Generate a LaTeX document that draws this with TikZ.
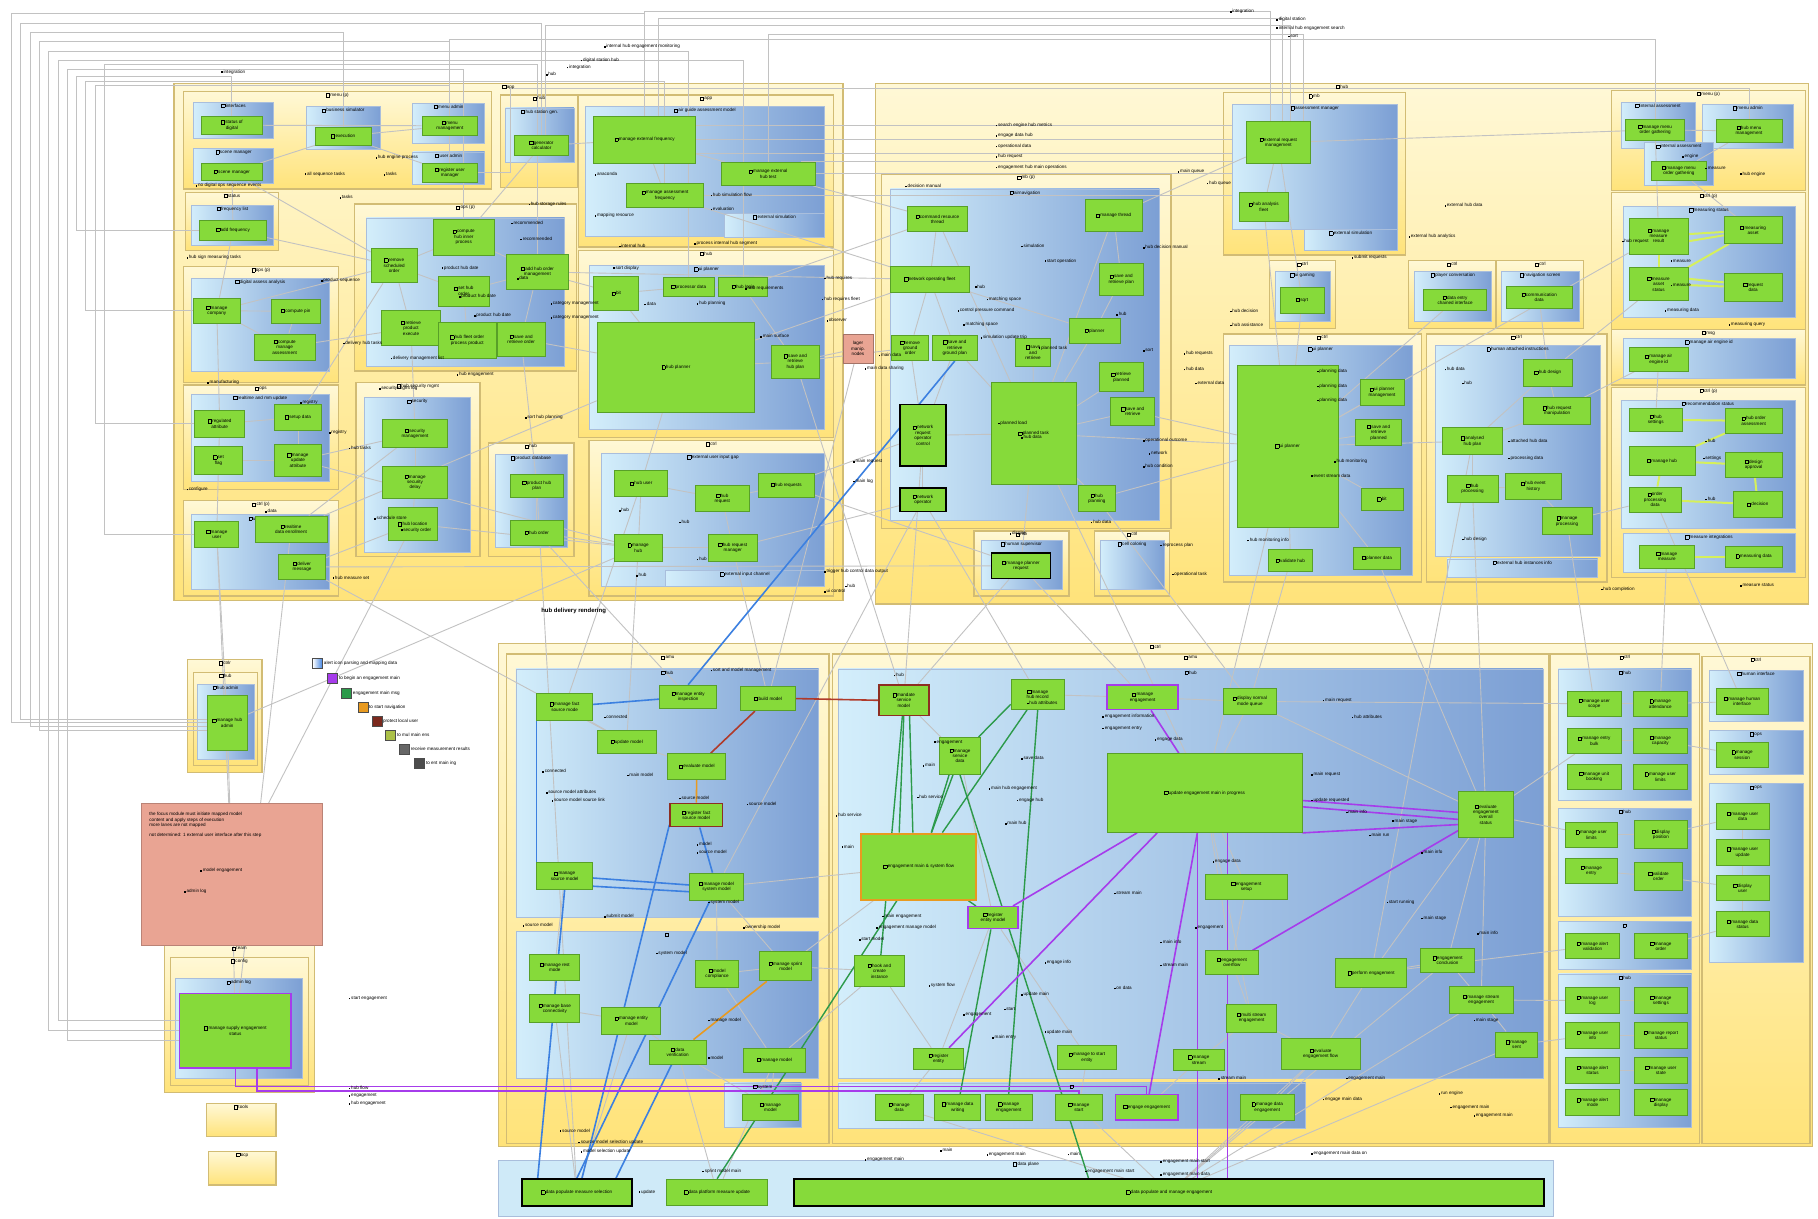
\documentclass[tikz,border=0pt]{standalone}
\usepackage{fontspec}
\setmainfont{Liberation Sans}
\usetikzlibrary{fit}
\definecolor{ytop}{HTML}{FFF8D6}
\definecolor{ybot}{HTML}{FFE37A}
\definecolor{yedge}{HTML}{D2BC74}
\definecolor{bl1}{HTML}{D3EEFB}
\definecolor{bl2}{HTML}{7C9FD4}
\definecolor{bedge}{HTML}{A9BEDC}
\definecolor{gfill}{HTML}{86DA3A}
\definecolor{gedge}{HTML}{58A028}
\definecolor{lgray}{HTML}{C2C2C2}
\definecolor{cblue}{HTML}{3C80E0}
\definecolor{cpurp}{HTML}{A63CEB}
\definecolor{cgreen}{HTML}{2C9A4A}
\definecolor{cred}{HTML}{B03A2A}
\definecolor{corange}{HTML}{E89A20}
\definecolor{pinkb}{HTML}{E9A493}
\definecolor{lime}{HTML}{D6F05A}
\definecolor{plane}{HTML}{CFEAF8}
\pgfdeclarelayer{bg}\pgfdeclarelayer{mid}
\pgfsetlayers{bg,mid,main}
\newcounter{lbc}
\newcommand\ico{{\fboxsep=0pt\fboxrule=0.15pt\fbox{\rule{0pt}{1.5pt}\hspace{1.5pt}}}\,}
\newcommand\bul{\rule{0.8pt}{0.8pt}\,}
\tikzset{
 ybox/.style={draw=yedge, line width=0.6pt, top color=ytop, bottom color=ybot, inner sep=0pt},
 bbox/.style={draw=bedge, line width=0.3pt, left color=bl1, right color=bl2, inner sep=0pt},
 gbox/.style={draw=gedge, line width=0.4pt, fill=gfill, inner sep=0pt},
 txt/.style={font=\fontsize{2.3}{2.7}\selectfont, inner sep=0.3pt, align=center},
 ttl/.style={txt, anchor=north, yshift=-0.6pt},
 lbl/.style={txt, anchor=west, align=left},
 gl/.style={draw=lgray, line width=0.45pt},
 cb/.style={draw=cblue, line width=0.8pt},
 cp/.style={draw=cpurp, line width=0.8pt},
 cg/.style={draw=cgreen, line width=0.7pt},
 cr/.style={draw=cred, line width=0.8pt},
 co/.style={draw=corange, line width=0.8pt},
 cl/.style={draw=lime, line width=1pt},
 leg/.style={draw=black!70, minimum size=5pt, inner sep=0pt, line width=0.3pt},
}
\newcommand\Yc[6]{\begin{pgfonlayer}{bg}\node[ybox,fit={(#2,#3)(#4,#5)}](#1){};\end{pgfonlayer}\node[ttl](#1t) at (#1.north){\ico #6};}
\newcommand\Bc[6]{\begin{pgfonlayer}{bg}\node[bbox,fit={(#2,#3)(#4,#5)}](#1){};\end{pgfonlayer}\node[ttl](#1t) at (#1.north){\ico #6};}
\newcommand\Gn[7][gbox]{\node[#1,fit={(#3,#4)(#5,#6)}](#2){};\node[txt](#2x) at (#2.center){\ico #7};}
\newcommand\Lb[3]{\stepcounter{lbc}\node[lbl](lb\arabic{lbc}) at (#1,#2){\bul #3};}
\begin{document}
\begin{tikzpicture}[x=0.5797pt,y=-0.5797pt]
\begin{pgfonlayer}{bg}
\fill[white] (0,0) rectangle (1568,1051);
\end{pgfonlayer}
\useasboundingbox (0,0) rectangle (1568,1051);
% ================= top-left block A
\Yc{cA}{150}{72}{727}{518}{app}
\Yc{cA1}{158}{79}{424}{163}{menu (p)}
\Bc{bA1a}{167}{88}{236}{119}{interfaces}
\Gn{gA1a}{174}{100}{226}{116}{status of\\digital}
\Bc{bA1b}{167}{128}{236}{158}{scene manager}
\Gn{gA1b}{174}{141}{226}{156}{scene manager}
\Bc{bA1c}{264}{92}{328}{129}{business simulator}
\Gn{gA1c}{272}{110}{320}{125}{execution}
\Bc{bA1d}{356}{89}{418}{124}{menu admin}
\Gn{gA1d}{364}{100}{412}{117}{menu\\management}
\Bc{bA1e}{356}{131}{418}{159}{user admin}
\Gn{gA1e}{364}{141}{412}{157}{register user\\manager}
\Yc{cA2}{160}{166}{240}{216}{status}
\Bc{bA2}{165}{177}{236}{212}{frequency list}
\Gn{gA2}{172}{190}{230}{207}{add frequency}
\Yc{cA3}{432}{82}{498}{162}{hub}
\Bc{bA3}{436}{93}{495}{140}{hub station gen.}
\Gn{gA3}{444}{117}{490}{134}{generator\\calculator}
\Yc{cA4}{499}{82}{719}{213}{app}
\Bc{bA4}{505}{92}{711}{204}{air guide assessment model}
\Gn{gA4a}{512}{100}{600}{141}{manage external frequency}
\Gn{gA4b}{622}{140}{703}{160}{manage external\\hub test}
\Gn{gA4c}{540}{158}{607}{179}{manage assessment\\frequency}
\Bc{bA4s}{625}{184}{711}{205}{external simulation}
\Yc{cA5}{306}{176}{497}{320}{ops (p)}
\Bc{bA5}{316}{188}{487}{316}{hub order}
\Gn{gA5a}{320}{214}{360}{244}{remove\\scheduled\\order}
\Gn{gA5b}{374}{189}{426}{220}{compute\\hub inner\\process}
\Gn{gA5c}{378}{238}{422}{264}{set hub\\order}
\Gn{gA5d}{329}{268}{380}{298}{retrieve\\product\\execute}
\Gn{gA5e}{378}{278}{428}{309}{hub fleet order\\process product}
\Gn{gA5f}{437}{219}{490}{250}{add hub order\\management}
\Gn{gA5g}{429}{278}{470}{307}{save and\\retrieve order}
\Yc{cA6}{158}{230}{292}{330}{ops (p)}
\Bc{bA6}{165}{240}{284}{320}{digital assess analysis}
\Gn{gA6a}{167}{257}{207}{279}{manage\\company}
\Gn{gA6b}{234}{258}{276}{279}{compute pin}
\Gn{gA6c}{219}{288}{272}{311}{compute\\manage\\assessment}
\Yc{cA7}{158}{332}{292}{422}{ops}
\Bc{bA7}{165}{340}{284}{415}{realtime and mm update}
\Gn{gA7a}{168}{354}{211}{377}{regulated\\attribute}
\Gn{gA7b}{237}{349}{277}{371}{setup data}
\Gn{gA7c}{168}{385}{209}{409}{set\\flag}
\Gn{gA7d}{237}{383}{277}{411}{manage\\update\\attribute}
\Yc{cA8}{307}{330}{414}{480}{hub security mgmt}
\Bc{bA8}{314}{343}{406}{476}{security}
\Gn{gA8a}{330}{362}{386}{386}{security\\management}
\Gn{gA8b}{330}{402}{386}{430}{manage\\security\\delay}
\Gn{gA8c}{335}{438}{377}{466}{hub location}
\Yc{cA9}{421}{382}{495}{480}{hub}
\Bc{bA9}{427}{392}{489}{472}{product database}
\Gn{gA9a}{440}{409}{486}{429}{product hub\\plan}
\Gn{gA9b}{440}{449}{486}{470}{hub order}
\Yc{cA10}{499}{216}{719}{377}{hub}
\Bc{bA10}{508}{229}{711}{370}{ui planner}
\Gn{gA10a}{512}{238}{551}{268}{bit}
\Gn{gA10b}{572}{239}{616}{256}{processor data}
\Gn{gA10c}{620}{239}{662}{256}{hub login}
\Gn{gA10d}{515}{278}{651}{356}{hub planner}
\Gn{gA10e}{665}{298}{707}{326}{save and\\retrieve\\hub plan}
\Yc{cA11}{508}{380}{719}{514}{ctrl}
\Bc{bA11}{519}{391}{711}{506}{external user input gap}
\Gn{gA11a}{530}{406}{576}{428}{hub user}
\Gn{gA11b}{600}{419}{646}{441}{hub\\request}
\Gn{gA11c}{654}{408}{702}{429}{hub requests}
\Gn{gA11d}{530}{461}{571}{484}{manage\\hub}
\Gn{gA11e}{611}{461}{653}{484}{hub request\\manager}
\Bc{bA11s}{574}{492}{711}{506}{external input channel}
\Yc{cA12}{158}{432}{292}{514}{ctrl (p)}
\Bc{bA12}{165}{444}{284}{508}{user data}
\Gn{gA12a}{168}{450}{206}{472}{manage\\user}
\Gn{gA12b}{220}{445}{282}{468}{realtime\\data enrollment}
\Gn{gA12c}{240}{478}{281}{500}{deliver\\message}
\node[fill=pinkb,draw=pinkb!70!black,line width=0.3pt,fit={(727,288)(753,313)},inner sep=0](pk1){};
\node[txt](pk1x) at (pk1.center){lager\\manip.\\nodes};
% ================= top-right block B
\Yc{cB}{755}{72}{1560}{521}{hub}
\Yc{cB1}{760}{150}{1010}{456}{mb (p)}
\Bc{bB1}{768}{163}{1000}{449}{airnavigation}
\Gn{gB1a}{783}{178}{834}{200}{command resource\\thread}
\Gn{gB1b}{936}{172}{985}{200}{manage thread}
\Gn{gB1c}{768}{230}{836}{252}{network operating fleet}
\Gn{gB1d}{948}{227}{986}{255}{save and\\retrieve plan}
\Gn{gB1e}{922}{275}{966}{296}{planner}
\Gn{gB1f}{769}{289}{801}{311}{remove\\ground\\order}
\Gn{gB1g}{804}{289}{843}{311}{save and\\retrieve\\ground plan}
\Gn{gB1h}{876}{292}{906}{316}{save\\and\\retrieve}
\Gn{gB1i}{948}{313}{986}{338}{retrieve\\planned}
\Gn{gB1j}{958}{343}{996}{367}{save and\\retrieve}
\Gn{gB1k}{855}{330}{928}{418}{planned task}
\Gn[gbox,draw=black,line width=0.8pt]{gB1l}{776}{349}{816}{402}{network\\request\\operator\\control}
\Gn[gbox,draw=black,line width=0.8pt]{gB1m}{776}{421}{816}{441}{network\\operator}
\Gn{gB1n}{930}{419}{962}{441}{hub\\planning}
\Yc{cB2}{1055}{80}{1212}{220}{mb}
\Bc{bB2}{1063}{90}{1205}{198}{assessment manager}
\Gn{gB2a}{1075}{105}{1130}{141}{external request\\management}
\Gn{gB2b}{1069}{166}{1111}{191}{hub analysis\\fleet}
\Bc{bB2s}{1125}{198}{1205}{216}{external simulation}
\Yc{cB3}{1095}{225}{1152}{283}{ctrl}
\Bc{bB3}{1100}{234}{1147}{277}{ui gaming}
\Gn{gB3}{1104}{248}{1142}{270}{sqrt}
\Yc{cB4}{1215}{225}{1290}{283}{ctrl}
\Bc{bB4}{1220}{234}{1286}{277}{player conversation}
\Gn{gB4}{1228}{250}{1282}{268}{data entry\\chained interface}
\Yc{cB5}{1291}{225}{1366}{283}{ctrl}
\Bc{bB5}{1295}{234}{1362}{277}{navigation screen}
\Gn{gB5}{1299}{247}{1356}{266}{communication\\data}
\Yc{cB6}{1055}{288}{1226}{502}{ctrl}
\Bc{bB6}{1060}{298}{1218}{496}{ui planner}
\Gn{gB6a}{1067}{315}{1154}{455}{ui planner}
\Gn{gB6b}{1173}{327}{1211}{350}{ui planner\\management}
\Gn{gB6c}{1169}{362}{1209}{384}{save and\\retrieve\\planned}
\Gn{gB6d}{1174}{421}{1210}{440}{bit}
\Gn{gB6e}{1094}{474}{1132}{493}{validate hub}
\Gn{gB6f}{1167}{472}{1208}{491}{planner data}
\Yc{cB7}{1230}{288}{1386}{502}{ctrl}
\Bc{bB7}{1238}{298}{1380}{480}{human attached instructions}
\Gn{gB7a}{1314}{310}{1356}{333}{hub design}
\Gn{gB7b}{1314}{343}{1372}{366}{hub request\\manipulation}
\Gn{gB7c}{1244}{369}{1296}{392}{analysed\\hub plan}
\Gn{gB7d}{1248}{410}{1292}{433}{hub\\processing}
\Gn{gB7e}{1298}{408}{1347}{431}{hub event\\history}
\Gn{gB7f}{1330}{438}{1373}{461}{manage\\processing}
\Bc{bB7s}{1248}{482}{1378}{498}{external hub instances info}
\Yc{cB8}{840}{458}{922}{514}{mb}
\Bc{bB8}{846}{466}{916}{508}{human supervisor}
\Gn[gbox,draw=black,line width=0.8pt]{gB8}{855}{477}{906}{499}{manage planner\\request}
\Yc{cB9}{944}{458}{1009}{514}{ctrl}
\Bc{bB9}{949}{466}{1004}{508}{cell coloring}
\Yc{cB10}{1390}{78}{1557}{164}{menu (p)}
\Bc{bB10a}{1398}{88}{1462}{128}{internal assessment}
\Gn{gB10a}{1402}{103}{1453}{121}{manage menu\\order gathering}
\Bc{bB10b}{1468}{90}{1547}{128}{menu admin}
\Gn{gB10b}{1480}{103}{1537}{123}{hub menu\\management}
\Bc{bB10c}{1418}{123}{1478}{160}{internal assessment}
\Gn{gB10c}{1424}{139}{1472}{156}{manage menu\\order gathering}
\Yc{cB11}{1390}{166}{1557}{284}{ctrl (p)}
\Bc{bB11}{1400}{178}{1548}{274}{measuring status}
\Gn{gB11a}{1405}{188}{1456}{219}{manage\\measure\\result}
\Gn{gB11b}{1487}{187}{1537}{210}{measuring\\asset}
\Gn{gB11c}{1405}{231}{1456}{259}{measure\\asset\\status}
\Gn{gB11d}{1487}{236}{1537}{260}{request\\data}
\Yc{cB12}{1390}{284}{1557}{332}{msg}
\Bc{bB12}{1400}{292}{1548}{326}{manage air engine id}
\Gn{gB12}{1405}{300}{1456}{320}{manage air\\engine id}
\Yc{cB13}{1390}{334}{1557}{498}{ctrl (p)}
\Bc{bB13}{1398}{345}{1548}{456}{recommendation status}
\Gn{gB13a}{1405}{352}{1451}{372}{hub\\settings}
\Gn{gB13b}{1488}{352}{1537}{374}{hub order\\assessment}
\Gn{gB13c}{1405}{385}{1462}{410}{manage hub}
\Gn{gB13d}{1488}{390}{1537}{412}{design\\approval}
\Gn{gB13e}{1405}{420}{1450}{442}{order\\processing\\data}
\Gn{gB13f}{1495}{424}{1537}{446}{decision}
\Bc{bB13s}{1400}{460}{1548}{494}{measure integrations}
\Gn{gB13g}{1414}{470}{1461}{490}{manage\\measure}
\Gn{gB13h}{1488}{471}{1537}{489}{measuring data}
% ================= bottom left
\Yc{cC1}{162}{569}{226}{666}{ctrlr}
\Yc{cC1b}{167}{580}{222}{660}{hub}
\Bc{bC1}{170}{590}{219}{655}{hub admin}
\Gn{gC1}{179}{600}{213}{647}{manage hub\\admin}
\node[fill=pinkb,draw=pinkb!80!black,line width=0.3pt,fit={(122,693)(278,815)},inner sep=0](pk2){};
\node[txt,anchor=north west,align=left](pk2x) at (128,700){the focus module must initiate mapped model\\content and apply steps of execution\\more lanes are not mapped\\[2pt]not determined: 1 external user interface after this step};
\Yc{cC2}{142}{815}{271}{942}{team}
\Yc{cC2b}{147}{826}{266}{936}{config}
\Bc{bC2}{151}{844}{261}{930}{admin log}
\Gn[gbox,draw=cpurp,line width=0.7pt]{gC2}{155}{857}{251}{921}{manage supply engagement\\status}
\Yc{cC3}{178}{952}{238}{980}{tools}
\Yc{cC4}{180}{993}{238}{1022}{ocp}
% legend
\node[leg,left color=white,right color=cblue](lg1) at (274,572){};
\node[leg,fill=cpurp](lg2) at (287,585){};
\node[leg,fill=cgreen](lg3) at (299,598){};
\node[leg,fill=corange](lg4) at (313,610){};
\node[leg,fill=cred!70!black](lg5) at (325,622){};
\node[leg,fill=lime!80!black](lg6) at (337,634){};
\node[leg,fill=black!60](lg7) at (349,646){};
\node[leg,fill=black!70](lg8) at (362,658){};
\node[lbl](lg1x) at (lg1.east){alert icon parsing and mapping data};
\node[lbl](lg2x) at (lg2.east){to begin an engagement main};
\node[lbl](lg3x) at (lg3.east){engagement main msg};
\node[lbl](lg4x) at (lg4.east){to start navigation};
\node[lbl](lg5x) at (lg5.east){protect local user};
\node[lbl](lg6x) at (lg6.east){to mul main ens};
\node[lbl](lg7x) at (lg7.east){receive measurement results};
\node[lbl](lg8x) at (lg8.east){to ent main ing};
\node[lbl,font=\fontsize{3}{3.4}\selectfont\bfseries](hdl) at (466,527){hub delivery rendering};
% ================= bottom block D
\Yc{cD}{430}{555}{1563}{989}{ctrl}
\Yc{cD1}{437}{564}{715}{986}{amu}
\Bc{bD1a}{445}{577}{706}{791}{hub}
\Gn{gD1a}{463}{598}{511}{621}{manage fact\\source mode}
\Gn{gD1b}{569}{591}{618}{611}{manage entity\\inspection}
\Gn{gD1c}{639}{592}{686}{613}{build model}
\Gn{gD1d}{515}{630}{566}{650}{update model}
\Gn{gD1e}{576}{650}{626}{672}{evaluate model}
\Gn[gbox,draw=cred!80!black,line width=0.8pt]{gD1f}{578}{693}{623}{713}{register fact\\source model}
\Gn{gD1g}{463}{744}{511}{767}{manage\\source model}
\Gn{gD1h}{595}{753}{641}{777}{manage model\\system model}
\Bc{bD1b}{445}{803}{706}{930}{}
\Gn{gD1i}{457}{823}{500}{846}{manage rest\\mode}
\Gn{gD1j}{457}{858}{500}{882}{manage base\\connectivity}
\Gn{gD1k}{600}{828}{637}{852}{model\\compliance}
\Gn{gD1l}{655}{821}{700}{846}{manage sprint\\model}
\Gn{gD1m}{519}{869}{570}{892}{manage entity\\model}
\Gn{gD1n}{560}{897}{609}{918}{data\\verification}
\Gn{gD1o}{641}{904}{695}{925}{manage model}
\Bc{bD1c}{625}{934}{691}{972}{system}
\Gn{gD1p}{640}{944}{689}{966}{manage\\model}
\Yc{cD2}{718}{564}{1336}{986}{amu}
\Bc{bD2}{723}{577}{1331}{930}{hub}
\Gn[gbox,draw=cred!80!black,line width=0.8pt]{gD2a}{758}{591}{801}{617}{mandate\\service\\model}
\Gn{gD2b}{872}{586}{918}{612}{manage\\hub record}
\Gn[gbox,draw=cpurp,line width=0.8pt]{gD2c}{955}{591}{1016}{612}{manage\\engagement}
\Gn{gD2d}{1055}{594}{1101}{616}{display normal\\mode queue}
\Gn{gD2e}{810}{636}{846}{668}{manage\\service\\data}
\Gn{gD2f}{955}{650}{1123}{718}{update engagement main in progress}
\Gn[gbox,draw=corange,line width=1pt]{gD2g}{743}{719}{842}{776}{engagement main \& system flow}
\Gn{gD2h}{1258}{683}{1305}{722}{evaluate\\engagement\\overall\\status}
\Gn{gD2i}{1040}{754}{1110}{776}{engagement\\setup}
\Gn[gbox,draw=cpurp,line width=0.7pt]{gD2j}{835}{782}{878}{801}{register\\entity model}
\Gn{gD2k}{737}{824}{780}{851}{hook and\\create\\instance}
\Gn{gD2l}{1152}{827}{1213}{852}{perform engagement}
\Gn{gD2m}{1040}{820}{1085}{840}{engagement\\overflow}
\Gn{gD2n}{1225}{818}{1272}{839}{engagement\\conclusion}
\Gn{gD2o}{1250}{851}{1305}{874}{manage stream\\engagement}
\Gn{gD2p}{1058}{866}{1101}{890}{multi stream\\engagement}
\Gn{gD2q}{1012}{905}{1056}{923}{manage\\stream}
\Gn{gD2r}{1105}{896}{1173}{922}{evaluate\\engagement flow}
\Gn{gD2s}{1290}{890}{1326}{912}{manage\\sent}
\Gn{gD2t}{788}{904}{831}{922}{register\\entity}
\Gn{gD2u}{912}{902}{963}{922}{manage to start\\entity}
\Bc{bD2s}{723}{934}{1126}{973}{}
\Gn{gD2v}{755}{944}{796}{966}{manage\\data}
\Gn{gD2w}{806}{944}{846}{966}{manage data\\writing}
\Gn{gD2x}{850}{944}{890}{966}{manage\\engagement}
\Gn{gD2y}{910}{944}{951}{966}{manage\\start}
\Gn[gbox,draw=cpurp,line width=0.7pt]{gD2z}{962}{944}{1016}{966}{engage engagement}
\Gn{gD2aa}{1070}{944}{1116}{966}{manage data\\engagement}
\Yc{cD3}{1337}{564}{1466}{986}{ctrl}
\Bc{bD3a}{1344}{577}{1459}{690}{hub}
\Gn{gD3a}{1352}{596}{1398}{618}{manage user\\scope}
\Gn{gD3b}{1409}{596}{1455}{618}{manage\\attendance}
\Gn{gD3c}{1352}{628}{1398}{650}{manage entry\\bulk}
\Gn{gD3d}{1409}{628}{1455}{650}{manage\\capacity}
\Gn{gD3e}{1352}{659}{1398}{681}{manage unit\\booking}
\Gn{gD3f}{1409}{659}{1455}{681}{manage user\\limits}
\Bc{bD3b}{1344}{697}{1459}{790}{hub}
\Gn{gD3g}{1350}{709}{1395}{731}{manage user\\limits}
\Gn{gD3h}{1410}{708}{1455}{732}{display\\position}
\Gn{gD3i}{1350}{740}{1395}{762}{manage\\entry}
\Gn{gD3j}{1410}{744}{1451}{768}{validate\\order}
\Bc{bD3c}{1344}{795}{1459}{836}{}
\Gn{gD3k}{1350}{805}{1397}{827}{manage alert\\validation}
\Gn{gD3l}{1410}{805}{1455}{827}{manage\\order}
\Bc{bD3d}{1344}{840}{1459}{972}{hub}
\Gn{gD3m}{1350}{852}{1397}{874}{manage user\\log}
\Gn{gD3n}{1410}{852}{1455}{874}{manage\\settings}
\Gn{gD3o}{1350}{882}{1397}{904}{manage user\\info}
\Gn{gD3p}{1410}{882}{1455}{904}{manage report\\status}
\Gn{gD3q}{1350}{912}{1397}{934}{manage alert\\status}
\Gn{gD3r}{1410}{912}{1455}{934}{manage user\\state}
\Gn{gD3s}{1350}{940}{1397}{962}{manage alert\\mode}
\Gn{gD3t}{1410}{940}{1455}{962}{manage\\display}
\Yc{cD4}{1468}{566}{1561}{986}{ctrl}
\Bc{bD4a}{1474}{578}{1555}{622}{human interface}
\Gn{gD4a}{1480}{594}{1525}{616}{manage human\\interface}
\Bc{bD4b}{1474}{630}{1555}{668}{ops}
\Gn{gD4b}{1480}{640}{1525}{662}{manage\\session}
\Bc{bD4c}{1474}{676}{1555}{830}{ops}
\Gn{gD4c}{1480}{693}{1526}{715}{manage user\\data}
\Gn{gD4d}{1480}{724}{1526}{746}{manage user\\update}
\Gn{gD4e}{1480}{755}{1526}{777}{display\\user}
\Gn{gD4f}{1480}{786}{1526}{808}{manage data\\status}
% ================= data plane
\begin{pgfonlayer}{bg}
\node[draw=bedge,fill=plane,line width=0.4pt,fit={(430,1001)(1340,1049)},inner sep=0](bE){};
\end{pgfonlayer}
\node[ttl](bEt) at (bE.north){\ico data plane};
\Gn[gbox,draw=black,line width=0.9pt]{gE1}{450}{1017}{545}{1040}{data populate measure selection}
\Gn{gE2}{575}{1017}{662}{1040}{data platform measure update}
\Gn[gbox,draw=black,line width=0.9pt]{gE3}{685}{1017}{1332}{1040}{data populate and manage engagement}
% ================= edge labels
\Lb{168}{160}{no digital ops sequence events}
\Lb{292}{170}{tasks}
\Lb{330}{150}{tasks}
\Lb{323}{136}{hub engine process}
\Lb{262}{150}{all sequence tasks}
\Lb{160}{222}{hub sign measuring tasks}
\Lb{276}{242}{product sequence}
\Lb{295}{296}{delivery hub tasks}
\Lb{178}{330}{manufacturing}
\Lb{258}{347}{registry}
\Lb{283}{373}{registry}
\Lb{300}{386}{hub tasks}
\Lb{160}{422}{configure}
\Lb{228}{441}{data}
\Lb{286}{498}{hub measure set}
\Lb{326}{335}{security mgmt log}
\Lb{322}{447}{schedule store}
\Lb{345}{457}{security order}
\Lb{380}{231}{product hub date}
\Lb{395}{256}{product hub date}
\Lb{408}{272}{product hub date}
\Lb{336}{309}{delivery management list}
\Lb{440}{192}{recommended}
\Lb{448}{206}{recommended}
\Lb{445}{240}{data}
\Lb{474}{262}{category management}
\Lb{474}{274}{category management}
\Lb{393}{323}{hub engagement}
\Lb{452}{360}{sort hub planning}
\Lb{455}{176}{hub storage rules}
\Lb{512}{150}{anaconda}
\Lb{512}{186}{mapping resource}
\Lb{612}{168}{hub simulation flow}
\Lb{612}{180}{evaluation}
\Lb{533}{212}{internal hub}
\Lb{598}{210}{process internal hub segment}
\Lb{528}{231}{sort display}
\Lb{555}{262}{data}
\Lb{600}{262}{hub planning}
\Lb{655}{290}{main surface}
\Lb{642}{249}{hub requirements}
\Lb{533}{440}{hub}
\Lb{585}{450}{hub}
\Lb{548}{496}{hub}
\Lb{600}{482}{hub}
\Lb{710}{240}{hub requires}
\Lb{708}{258}{hub requires fleet}
\Lb{712}{276}{observer}
\Lb{757}{306}{main data}
\Lb{745}{318}{main data sharing}
\Lb{735}{398}{main request}
\Lb{735}{415}{main log}
\Lb{728}{505}{hub}
\Lb{710}{493}{trigger hub control data output}
\Lb{710}{510}{ui control}
\Lb{858}{108}{search engine hub metrics}
\Lb{858}{117}{engage data hub}
\Lb{858}{126}{operational data}
\Lb{858}{135}{hub request}
\Lb{858}{144}{engagement hub main operations}
\Lb{1015}{148}{main queue}
\Lb{1040}{158}{hub queue}
\Lb{780}{160}{decision manual}
\Lb{880}{212}{simulation}
\Lb{900}{225}{start operation}
\Lb{985}{213}{hub decision manual}
\Lb{840}{247}{hub}
\Lb{850}{258}{matching space}
\Lb{825}{268}{control pressure command}
\Lb{830}{280}{matching space}
\Lb{845}{291}{simulation update trip}
\Lb{895}{300}{planned task}
\Lb{962}{271}{hub}
\Lb{985}{302}{sort}
\Lb{860}{365}{planned load}
\Lb{880}{377}{hub data}
\Lb{985}{380}{operational outcome}
\Lb{990}{391}{network}
\Lb{985}{402}{hub condition}
\Lb{940}{450}{hub data}
\Lb{870}{460}{display}
\Lb{1000}{470}{reprocess plan}
\Lb{1010}{495}{operational task}
\Lb{1020}{305}{hub requests}
\Lb{1020}{318}{hub data}
\Lb{1030}{330}{external data}
\Lb{1060}{268}{hub decision}
\Lb{1060}{280}{hub assistance}
\Lb{1214}{204}{external hub analytics}
\Lb{1165}{222}{submit requests}
\Lb{1135}{320}{planning data}
\Lb{1135}{333}{planning data}
\Lb{1135}{345}{planning data}
\Lb{1150}{398}{hub monitoring}
\Lb{1130}{410}{event stream data}
\Lb{1075}{466}{hub monitoring info}
\Lb{1245}{318}{hub data}
\Lb{1260}{330}{hub}
\Lb{1300}{380}{attached hub data}
\Lb{1300}{395}{processing data}
\Lb{1260}{465}{hub design}
\Lb{1245}{177}{external hub data}
\Lb{1398}{208}{hub request}
\Lb{1440}{225}{measure}
\Lb{1440}{246}{measure}
\Lb{1435}{268}{measuring data}
\Lb{1490}{280}{measuring query}
\Lb{1470}{145}{measure}
\Lb{1450}{135}{engine}
\Lb{1500}{150}{hub engine}
\Lb{1470}{380}{hub}
\Lb{1468}{395}{settings}
\Lb{1470}{430}{hub}
\Lb{1500}{505}{measure status}
\Lb{1380}{508}{hub completion}
\Lb{1060}{10}{integration}
\Lb{1100}{17}{digital station}
\Lb{1100}{24}{internal hub engagement search}
\Lb{1110}{31}{sort}
\Lb{520}{40}{internal hub engagement monitoring}
\Lb{500}{52}{digital station hub}
\Lb{488}{58}{integration}
\Lb{470}{64}{hub}
\Lb{190}{62}{integration}
\Lb{612}{578}{sort and model management}
\Lb{520}{618}{connected}
\Lb{540}{668}{main model}
\Lb{467}{665}{connected}
\Lb{470}{683}{source model attributes}
\Lb{475}{690}{source model source link}
\Lb{585}{688}{source model}
\Lb{600}{728}{model}
\Lb{600}{735}{source model}
\Lb{643}{693}{source model}
\Lb{610}{778}{system model}
\Lb{520}{790}{submit model}
\Lb{565}{822}{system model}
\Lb{610}{880}{manage model}
\Lb{610}{912}{model}
\Lb{450}{798}{source model}
\Lb{640}{800}{ownership model}
\Lb{482}{975}{source model}
\Lb{498}{985}{source model selection update}
\Lb{500}{993}{model selection update}
\Lb{605}{1010}{sprint model main}
\Lb{550}{1028}{update}
\Lb{745}{1000}{engagement main}
\Lb{810}{992}{main}
\Lb{850}{996}{engagement main}
\Lb{935}{1010}{engagement main start}
\Lb{1000}{1002}{engagement main start}
\Lb{1130}{995}{engagement main data on}
\Lb{1000}{1013}{engagement main data}
\Lb{920}{995}{main}
\Lb{770}{582}{hub}
\Lb{805}{640}{engagement}
\Lb{795}{660}{main}
\Lb{790}{687}{hub service}
\Lb{852}{680}{main hub engagement}
\Lb{876}{690}{engage hub}
\Lb{866}{710}{main hub}
\Lb{885}{606}{hub attributes}
\Lb{880}{654}{save data}
\Lb{950}{618}{engagement information}
\Lb{950}{628}{engagement entry}
\Lb{995}{638}{engage data}
\Lb{1140}{604}{main request}
\Lb{1165}{618}{hub attributes}
\Lb{1130}{668}{main request}
\Lb{1130}{690}{update requested}
\Lb{1180}{720}{main run}
\Lb{1160}{700}{main info}
\Lb{1200}{708}{main stage}
\Lb{1225}{735}{main info}
\Lb{1195}{778}{start running}
\Lb{1225}{792}{main stage}
\Lb{1273}{805}{main info}
\Lb{1270}{880}{main stage}
\Lb{1240}{943}{run engine}
\Lb{1250}{955}{engagement main}
\Lb{1270}{962}{engagement main}
\Lb{960}{770}{stream main}
\Lb{1030}{800}{engagement}
\Lb{1000}{812}{main info}
\Lb{1000}{832}{stream main}
\Lb{1045}{743}{engage data}
\Lb{960}{852}{on data}
\Lb{900}{830}{engage info}
\Lb{880}{858}{update main}
\Lb{900}{890}{update main}
\Lb{865}{870}{start}
\Lb{760}{790}{main engagement}
\Lb{755}{800}{engagement manage model}
\Lb{740}{810}{start model}
\Lb{800}{850}{system flow}
\Lb{830}{875}{engagement}
\Lb{855}{895}{main entry}
\Lb{720}{703}{hub service}
\Lb{725}{730}{main}
\Lb{1160}{930}{engagement main}
\Lb{1050}{930}{stream main}
\Lb{1140}{948}{engage main data}
\Lb{300}{861}{start engagement}
\Lb{300}{938}{hub flow}
\Lb{300}{945}{engagement}
\Lb{300}{952}{hub engagement}
\Lb{172}{751}{model engagement}
\Lb{158}{769}{admin log}
% ================= connectors
\begin{pgfonlayer}{mid}
% far-left and top routes
\draw[gl] (gC1.west) -| (10,12) -| (gA4a.north);
\draw[gl] (gC1.170) -| (18,20) -| (gA3.north);
\draw[gl] (gC1.190) -| (26,28) -| (gA1c.north);
\draw[gl] (gC1.200) -| (34,36) -| (gA1d.north);
\draw[gl] (gC2.west) -| (42,44) -| (gA10b.north);
\draw[gl] (gC2.170) -| (50,52) -| (gA10c.north);
\draw[gl] (gC2.190) -| (58,60) -| (gA5b.north);
\draw[gl] (gA2.west) -| (66,66) -| (gA1a.north);
\draw[gl] (gA6a.west) -| (74,70) -| (gA4c.north);
\draw[gl] (gA7a.west) -| (82,74) -| (gA1e.north);
\draw[gl] (gA12a.west) -| (90,56) -| (gA5f.north);
\draw[gl] (gA4a.north) |- (gB2a.110 |- 0,10) -- (gB2a.110);
\draw[gl] (gA4a.60) |- (gB2a.80 |- 0,16) -- (gB2a.80);
\draw[gl] (gA3.70) |- (gB2a.60 |- 0,22) -- (gB2a.60);
\draw[gl] (gA4b.north) |- (gB2a.40 |- 0,30) -- (gB2a.40);
\draw[gl] (gA1d.north) |- (gB10a.north |- 0,34) -- (gB10a.north);
\draw[gl] (gA1e.east) -| (440,76) -| (gB10b.north);
\draw[gl] (gA4a.east) -- (gA4a.east -| bB2.west);
\draw[gl] (gA4a.15) -- (gA4a.15 -| bB2.west);
\draw[gl] (gA4a.-15) -- (gA4a.-15 -| bB2.west);
\draw[gl] (gA4b.east) -- (gA4b.east -| bB2.west);
\draw[gl] (gA4b.20) -- (gA4b.20 -| bB2.west);
\draw[gl] (gA4c.east) -- (gA4c.east -| bB2.west);
% A internal
\draw[gl] (gA1b) -- (gA2);
\draw[gl] (gA1b) -- (gA1c);
\draw[gl] (gA1c) -- (gA1d);
\draw[gl] (gA1c) -- (gA1e);
\draw[gl] (gA1a) -- (gA1d);
\draw[gl] (gA2) -- (gA6a);
\draw[gl] (gA6a) -- (gA7a);
\draw[gl] (gA7a) -- (gA7c);
\draw[gl] (gA7c) -- (gA12a);
\draw[gl] (gA12a) -- (pk2);
\draw[gl] (gA6a) -- (gA6b);
\draw[gl] (gA6b) -- (gA6c);
\draw[gl] (gA6a) -- (gA6c);
\draw[gl] (gA7a) -- (gA7b);
\draw[gl] (gA7b) -- (gA7d);
\draw[gl] (gA7c) -- (gA7d);
\draw[gl] (gA5a) -- (gA5b);
\draw[gl] (gA5a) -- (gA5d);
\draw[gl] (gA5b) -- (gA5f);
\draw[gl] (gA5c) -- (gA5f);
\draw[gl] (gA5d) -- (gA5e);
\draw[gl] (gA5e) -- (gA5g);
\draw[gl] (gA5c) -- (gA5e);
\draw[gl] (gA5f) -- (gA5g);
\draw[gl] (gA5a) -- (gA5c);
\draw[gl] (gA6a) -- (gA5a);
\draw[gl] (gA6c) -- (gA5d);
\draw[gl] (gA7b) -- (gA5a);
\draw[gl] (gA7d) -- (gA8a);
\draw[gl] (gA12b) -- (gA8a);
\draw[gl] (gA12c) -- (gA8c);
\draw[gl] (gA8a) -- (gA8b);
\draw[gl] (gA8b) -- (gA8c);
\draw[gl] (gA8a) -- (gA5d);
\draw[gl] (gA9a) -- (gA9b);
\draw[gl] (gA9b) -- (gA11d);
\draw[gl] (gA9a) -- (gA5g);
\draw[gl] (gA3) -- (gA5b);
\draw[gl] (gA3) -- (gA4a);
\draw[gl] (gA5f) -- (gA10a);
\draw[gl] (gA5g) -- (gA10d);
\draw[gl] (gA4a) -- (gA4c);
\draw[gl] (gA4a) -- (gA4b);
\draw[gl] (gA10a) -- (gA10b);
\draw[gl] (gA10a) -- (gA10d);
\draw[gl] (gA10b) -- (gA10c);
\draw[gl] (gA10d) -- (gA10e);
\draw[gl] (gA10c) -- (gA10e);
\draw[gl] (gA11a) -- (gA11b);
\draw[gl] (gA11b) -- (gA11c);
\draw[gl] (gA11d) -- (gA11e);
\draw[gl] (gA11a) -- (gA11d);
\draw[gl] (gA11b) -- (gA11e);
\draw[gl] (gA8c) -- (gA11d);
\draw[gl] (gA10d) -- (gA11a);
\draw[gl] (gA1b) -- (gA5a);
\draw[gl] (gA2) -- (gA5a);
\draw[gl] (gA12b) -- (gA10d);
\draw[gl] (gA7d) -- (gA11d);
\draw[gl] (gA12c) -- (gB8);
\draw[gl] (gA10e) -- (pk1);
\draw[gl] (gA10d) -- (gB1c);
\draw[gl] (gA10e) -- (gB1f);
\draw[gl] (gA11c) -- (gB1l);
\draw[gl] (gA11e) -- (gB1m);
\draw[gl] (gA4b) -- (gB1a);
\draw[gl] (gA4c) -- (gB1c);
\draw[gl] (gA10c) -- (gB1a);
\draw[gl] (gA11c) -- (gB8);
\draw[gl] (gA5f) -- (gB1c);
% B internal
\draw[gl] (gB1a) -- (gB1c);
\draw[gl] (gB1b) -- (gB1d);
\draw[gl] (gB1d) -- (gB1e);
\draw[gl] (gB1e) -- (gB1k);
\draw[gl] (gB1c) -- (gB1f);
\draw[gl] (gB1c) -- (gB1g);
\draw[gl] (gB1c) -- (gB1e);
\draw[gl] (gB1g) -- (gB1k);
\draw[gl] (gB1h) -- (gB1k);
\draw[gl] (gB1i) -- (gB1k);
\draw[gl] (gB1j) -- (gB1k);
\draw[gl] (gB1f) -- (gB1l);
\draw[gl] (gB1g) -- (gB1l);
\draw[gl] (gB1l) -- (gB1m);
\draw[gl] (gB1k) -- (gB1n);
\draw[gl] (gB1l) -- (gB1k);
\draw[gl] (gB1a) -- (gB1k);
\draw[gl] (gB1b) -- (gB2a);
\draw[gl] (gB1b) -- (gB1k);
\draw[gl] (gB2a) -- (gB2b);
\draw[gl] (gB2b) -- (gB6a);
\draw[gl] (gB2a) -- (gB3);
\draw[gl] (gB6a) -- (gB6b);
\draw[gl] (gB6a) -- (gB6c);
\draw[gl] (gB6a) -- (gB6d);
\draw[gl] (gB6a) -- (gB6e);
\draw[gl] (gB6a) -- (gB6f);
\draw[gl] (gB3) -- (gB6a);
\draw[gl] (gB4) -- (gB6a);
\draw[gl] (gB5) -- (gB7a);
\draw[gl] (gB7a) -- (gB7c);
\draw[gl] (gB7b) -- (gB7c);
\draw[gl] (gB7c) -- (gB7d);
\draw[gl] (gB7d) -- (gB7e);
\draw[gl] (gB7e) -- (gB7f);
\draw[gl] (gB7a) -- (gB7b);
\draw[gl] (gB6a) -- (gB7c);
\draw[gl] (gB6a) -- (gB11a);
\draw[gl] (gB7a) -- (gB11c);
\draw[gl] (gB7b) -- (gB12);
\draw[gl] (gB7f) -- (gB13e);
\draw[gl] (gB2a) -- (gB10a);
\draw[gl] (gB10a) -- (gB10b);
\draw[gl] (gB10c) -- (gB10b);
\draw[gl] (gB10a) -- (gB11a);
\draw[gl] (gB10c) -- (gB11b);
\draw[gl] (gB12) -- (gB13a);
\draw[gl] (gB8) -- (gB1k);
\draw[gl] (gB1n) -- (gB6a);
\draw[gl] (gB1k) -- (gB6a);
\draw[gl] (gB1j) -- (gB6a);
\draw[cl] (gB11a) -- (gB11b);
\draw[cl] (gB11a.-10) -- (gB11b.190);
\draw[cl] (gB11c) -- (gB11b);
\draw[cl] (gB11c) -- (gB11d);
\draw[cl] (gB11c.10) -- (gB11d.170);
\draw[cl] (gB11a) -- (gB11c);
\draw[cl] (gB13a) -- (gB13b);
\draw[cl] (gB13c) -- (gB13b);
\draw[cl] (gB13c) -- (gB13d);
\draw[cl] (gB13c) -- (gB13e);
\draw[cl] (gB13e) -- (gB13f);
\draw[cl] (gB13d) -- (gB13f);
\draw[cl] (gB13g) -- (gB13h);
% B to D and long crossings
\draw[gl] (gA11a) -- (gD1a);
\draw[gl] (gA11d) -- (gD1d);
\draw[gl] (gA12c) -- (gD1d);
\draw[gl] (gA10e) -- (gD2a);
\draw[gl] (gA11e) -- (gD1c);
\draw[gl] (gB1l) -- (gD2a);
\draw[gl] (gB1m) -- (gD2b);
\draw[gl] (gB8) -- (gD2c);
\draw[gl] (gB1k) -- (gD2f);
\draw[gl] (gB1n) -- (gD2d);
\draw[gl] (gB6a) -- (gD2f);
\draw[gl] (gB6e) -- (gD2d);
\draw[gl] (gB6f) -- (gD2h);
\draw[gl] (gB7d) -- (gD2h);
\draw[gl] (gB7f) -- (gD3a);
\draw[gl] (gB13e) -- (gD4a);
\draw[gl] (gB13g) -- (gD3b);
\draw[gl] (gB7c) -- (gD2l);
\draw[gl] (pk1) -- (gD1c);
\draw[gl] (gA9b) -- (gD1b);
\draw[gl] (gA11d) -- (gC1);
\draw[gl] (gA8c) -- (pk2);
\draw[gl] (gA12a) -- (gC1);
\draw[gl] (gC1) -- (pk2);
\draw[gl] (pk2) -- (gC2);
\draw[gl] (gA12b) -- (gC2);
\draw[gl] (gA9a) -- (gE1);
\draw[gl] (gB1m) -- (gD1h);
\draw[gl] (gB8) -- (gD2a);
% D internal gray
\draw[gl] (gD1a) -- (gD1d);
\draw[gl] (gD1d) -- (gD1e);
\draw[gl] (gD1g) -- (gD1i);
\draw[gl] (gD1i) -- (gD1j);
\draw[gl] (gD1j) -- (gD1m);
\draw[gl] (gD1m) -- (gD1n);
\draw[gl] (gD1k) -- (gD1l);
\draw[gl] (gD1k) -- (gD1o);
\draw[gl] (gD1h) -- (gD1k);
\draw[gl] (gD1h) -- (gD1l);
\draw[gl] (gD1o) -- (gD1p);
\draw[gl] (gD1n) -- (gD1p);
\draw[gl] (gD1m) -- (gE1);
\draw[gl] (gD1j) -- (gE1);
\draw[gl] (gD1n) -- (gE2);
\draw[gl] (gD1o) -- (gE2);
\draw[gl] (gD2g) -- (gD1h);
\draw[gl] (gD2g) -- (gD1l);
\draw[gl] (gD2k) -- (gD1l);
\draw[gl] (gD2k) -- (gD1o);
\draw[gl] (gD2a) -- (gD2e);
\draw[gl] (gD2e) -- (gD2j);
\draw[gl] (gD2f) -- (gD2d);
\draw[gl] (gD2f) -- (gD2i);
\draw[gl] (gD2f) -- (gD2m);
\draw[gl] (gD2f) -- (gD2p);
\draw[gl] (gD2i) -- (gD2m);
\draw[gl] (gD2m) -- (gD2p);
\draw[gl] (gD2p) -- (gD2q);
\draw[gl] (gD2p) -- (gD2r);
\draw[gl] (gD2l) -- (gD2r);
\draw[gl] (gD2l) -- (gD2n);
\draw[gl] (gD2n) -- (gD2o);
\draw[gl] (gD2o) -- (gD2s);
\draw[gl] (gD2h) -- (gD2n);
\draw[gl] (gD2h) -- (gD2o);
\draw[gl] (gD2h) -- (gD2l);
\draw[gl] (gD2k) -- (gD2t);
\draw[gl] (gD2t) -- (gD2v);
\draw[gl] (gD2u) -- (gD2y);
\draw[gl] (gD2q) -- (gD2z);
\draw[gl] (gD2r) -- (gD2aa);
\draw[gl] (gD2j) -- (gD2u);
\draw[gl] (gD2j) -- (gD2t);
\draw[gl] (gD2d) -- (gD2h);
\draw[gl] (gD2d) -- (gD3a);
\draw[gl] (gD2h) -- (gD3g);
\draw[gl] (gD2h) -- (gD3c);
\draw[gl] (gD2o) -- (gD3m);
\draw[gl] (gD2s) -- (gD3o);
\draw[gl] (gD2l) -- (gD3k);
\draw[gl] (gD2aa) -- (gE3);
\draw[gl] (gD2v) -- (gE3);
\draw[gl] (gD2y) -- (gE3);
\draw[gl] (gD2r) -- (gE3);
\draw[gl] (gD2s) -- (gE3);
\draw[gl] (gD2o) -- (gE3);
\draw[gl] (gD2n) -- (gE3);
\draw[gl] (gD3a) -- (gD3b);
\draw[gl] (gD3c) -- (gD3d);
\draw[gl] (gD3g) -- (gD3h);
\draw[gl] (gD3i) -- (gD3j);
\draw[gl] (gD3m) -- (gD3n);
\draw[gl] (gD3o) -- (gD3p);
\draw[gl] (gD3q) -- (gD3r);
\draw[gl] (gD3b) -- (gD4a);
\draw[gl] (gD3d) -- (gD4b);
\draw[gl] (gD3h) -- (gD4c);
\draw[gl] (gD3j) -- (gD4e);
\draw[gl] (gD3l) -- (gD4f);
\draw[gl] (gD4c) -- (gD4d);
\draw[gl] (gD4d) -- (gD4e);
\draw[gl] (gD4e) -- (gD4f);
\draw[gl] (gD2c) -- (gD2b);
\draw[gl] (gD2c) -- (gD2d);
% coloured connectors
\draw[cb] (gD1a) -- (gD1b);
\draw[cb] (gD1a.200) -- (gD1g.160);
\draw[cb] (gD1g) -- (gD1h);
\draw[cb] (gD1g.-20) -- (gD1h.190);
\draw[cb] (gD1f) -- (gD1h);
\draw[cb] (gD1b.north) -- (gB1g.south);
\draw[cb] (gD1g.south) -- (gE1.160);
\draw[cb] (gD1h) -- (gE1.north);
\draw[cb] (gD1f.200) -- (gE1.70);
\draw[cb] (gD1n) -- (gE1.20);
\draw[cr] (gD2a.west) -- (gD1c.east);
\draw[cr] (gD1c) -- (gD1e);
\draw[co] (gD1e) -- (gD1f);
\draw[co] (gD1l) -- (gD1n);
\draw[cg] (gD2b) -- (gD2g);
\draw[cg] (gD2b.south) -- (gD2x.north);
\draw[cg] (gD2b.200) -- (gD2e);
\draw[cg] (gD2e) -- (gD2g);
\draw[cg] (gD2e.-120) -- (gD2g.70);
\draw[cg] (gD2g) -- (gD2j);
\draw[cg] (gD2j) -- (gD2w);
\draw[cg] (gD2g) -- (gE2.north);
\draw[cg] (gD2a) -- (gD2k);
\draw[cg] (gD2a.south) -- (gD2g.120);
\draw[cg] (gD2a.-70) -- (gD2g.100);
\draw[cg] (gD2e.south) -- (gE3.170);
\draw[cp] (gD2c) -- (gD2f);
\draw[cp] (gD2f) -- (gD2h);
\draw[cp] (gD2f.-8) -- (gD2h.190);
\draw[cp] (gD2f) -- (gD2z);
\draw[cp] (gD2f.-60) -- (gE3.north -| gD2f.-60);
\draw[cp] (gD2f.-100) -- (gE3.north -| gD2f.-100);
\draw[cp] (gD2f) -- (gD2j);
\draw[cp] (gD2f.-140) -- (gD2t);
\draw[cp] (gD2h) -- (gD2m);
\draw[cp] (gD2h.200) -- (gD2f.south east);
\draw[cp] (gC2.south) |- (gD2z.north |- 0,937) -- (gD2z.north);
\draw[cp] (gC2.-60) |- (gD2y.north |- 0,941) -- (gD2y.north);
\end{pgfonlayer}
\end{tikzpicture}
\end{document}
